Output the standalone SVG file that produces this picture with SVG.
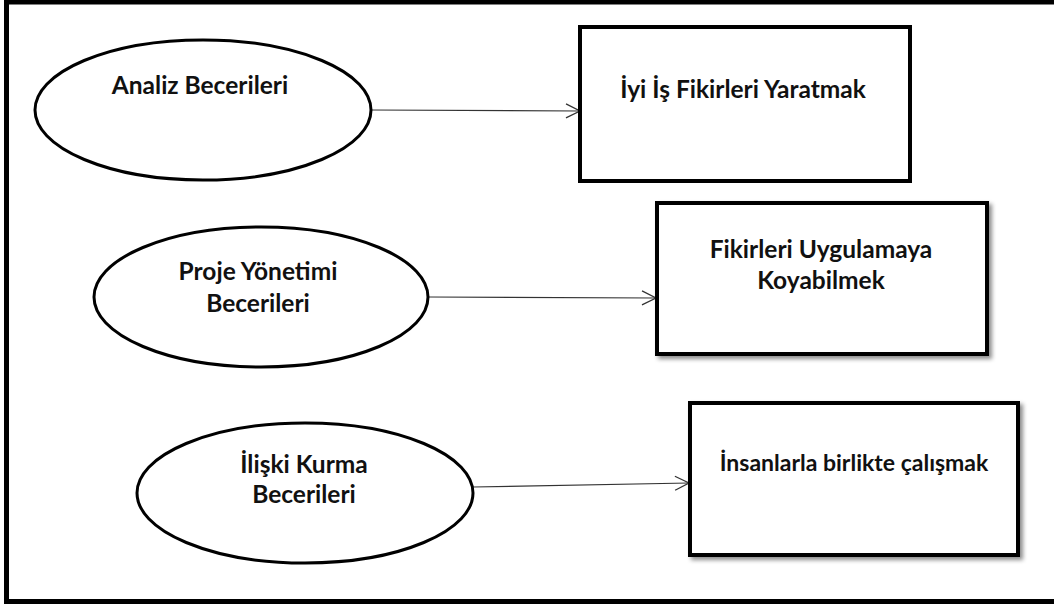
<svg xmlns="http://www.w3.org/2000/svg" width="1054" height="610" viewBox="0 0 1054 610">
  <defs>
    <style>
      .frame { fill: #ffffff; stroke: #000000; stroke-width: 5; }
      .ell { fill: #ffffff; stroke: #000000; stroke-width: 3; }
      .box { fill: #ffffff; stroke: #000000; stroke-width: 4; }
      .lbl { font-family: Lato, "Open Sans", "Liberation Sans", sans-serif; font-weight: bold; font-size: 24.5px; fill: #111111; text-anchor: middle; }
      .conn { stroke: #333333; stroke-width: 1.2; fill: none; }
    </style>
    <marker id="arr" markerUnits="userSpaceOnUse" markerWidth="18" markerHeight="18" refX="15" refY="8" orient="auto">
      <path d="M1,1 L15,8 L1,15" fill="none" stroke="#333333" stroke-width="1.3"/>
    </marker>
    <filter id="shadow" x="-10%" y="-10%" width="125%" height="130%">
      <feDropShadow dx="3" dy="3" stdDeviation="2" flood-color="#000000" flood-opacity="0.45"/>
    </filter>
  </defs>

  <rect class="frame" x="6.5" y="2" width="1052" height="599.5"/>

  <g id="connectors">
    <line class="conn" x1="371" y1="110" x2="580" y2="111" marker-end="url(#arr)"/>
    <line class="conn" x1="429" y1="297" x2="656" y2="298" marker-end="url(#arr)"/>
    <line class="conn" x1="473" y1="487" x2="689" y2="483" marker-end="url(#arr)"/>
  </g>

  <g id="analiz">
    <ellipse class="ell" cx="203" cy="110" rx="168" ry="70"/>
    <text class="lbl" x="200" y="94">Analiz Becerileri</text>
  </g>

  <g id="proje">
    <ellipse class="ell" cx="261" cy="297" rx="167" ry="70"/>
    <text class="lbl" x="258" y="280">Proje Yönetimi</text>
    <text class="lbl" x="258" y="312">Becerileri</text>
  </g>

  <g id="iliski">
    <ellipse class="ell" cx="305" cy="493" rx="168" ry="70"/>
    <text class="lbl" x="304" y="473">İlişki Kurma</text>
    <text class="lbl" x="304" y="503">Becerileri</text>
  </g>

  <g id="fikir">
    <rect class="box" x="580" y="27" width="330" height="154"/>
    <text class="lbl" x="743" y="98">İyi İş Fikirleri Yaratmak</text>
  </g>

  <g id="uygulama">
    <rect class="box" x="657" y="203" width="330" height="151" filter="url(#shadow)"/>
    <text class="lbl" x="821" y="258">Fikirleri Uygulamaya</text>
    <text class="lbl" x="821" y="289">Koyabilmek</text>
  </g>

  <g id="insan">
    <rect class="box" x="690" y="403" width="328" height="152" filter="url(#shadow)"/>
    <text class="lbl" x="854" y="471" style="font-size:23px">İnsanlarla birlikte çalışmak</text>
  </g>
</svg>
